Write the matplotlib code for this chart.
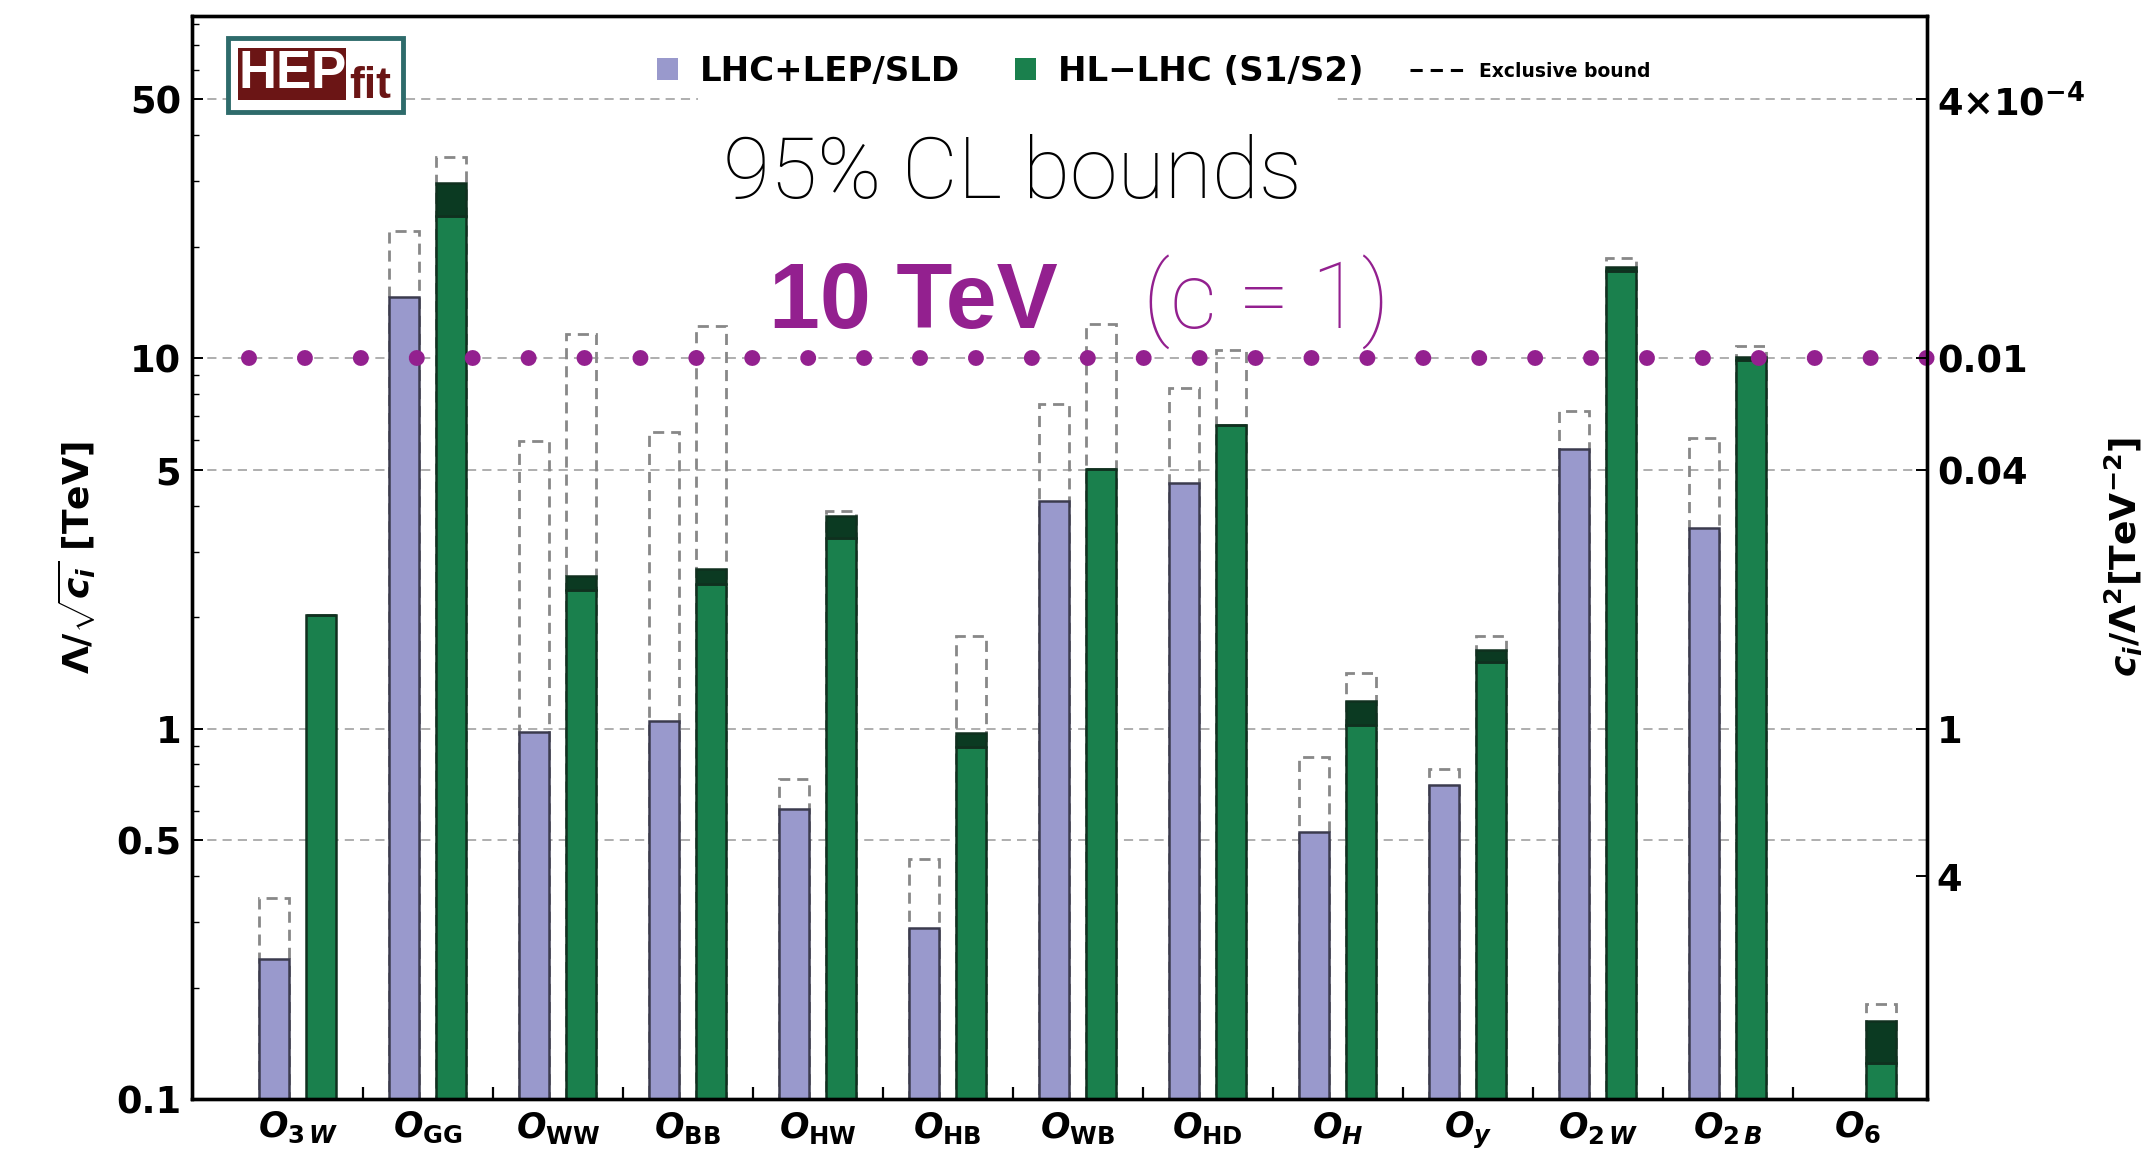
import numpy as np
import matplotlib
matplotlib.use("Agg")
import matplotlib.pyplot as plt
from matplotlib.patches import Patch, Rectangle
from matplotlib.lines import Line2D
from matplotlib.ticker import LogLocator, NullFormatter

plt.rcParams['font.family'] = ['DejaVu Sans']
plt.rcParams['mathtext.fontset'] = 'custom'
plt.rcParams['mathtext.rm'] = 'DejaVu Sans:bold'
plt.rcParams['mathtext.it'] = 'DejaVu Sans:bold:italic'
plt.rcParams['mathtext.bf'] = 'DejaVu Sans:bold'

nan = np.nan
ops = [r'$O_{3\,W}$', r'$O_{\rm GG}$', r'$O_{\rm WW}$', r'$O_{\rm BB}$', r'$O_{\rm HW}$',
       r'$O_{\rm HB}$', r'$O_{\rm WB}$', r'$O_{\rm HD}$', r'$O_{H}$', r'$O_{y}$',
       r'$O_{2\,W}$', r'$O_{2\,B}$', r'$O_{6}$']
# Lambda/sqrt(c) bounds in TeV
lhc = [0.239, 14.6, 0.98, 1.05, 0.606, 0.289, 4.12, 4.59, 0.526, 0.706, 5.70, 3.47, nan]
lhc_excl = [0.349, 22.0, 5.96, 6.32, 0.729, 0.444, 7.54, 8.31, 0.839, 0.779, 7.21, 6.08, nan]
hl_s1 = [2.03, 24.2, 2.36, 2.45, 3.27, 0.891, 5.01, 6.59, 1.025, 1.51, 17.2, 9.9, 0.125]
hl_s2 = [2.03, 29.8, 2.59, 2.70, 3.75, 0.972, 5.01, 6.59, 1.19, 1.63, 17.6, 10.1, 0.162]
hl_excl = [nan, 34.9, 11.6, 12.2, 3.87, 1.78, 12.4, 10.5, 1.41, 1.78, 18.6, 10.8, 0.181]

left_ticks = [0.1, 0.5, 1, 5, 10, 50]
left_labels = ['0.1', '0.5', '1', '5', '10', '50']
right_ticks = [50, 10, 5, 1, 0.4]
right_labels = [r'$4{\times}10^{-4}$', '0.01', '0.04', '1', '4']
ref_scale = 10  # TeV

purple = '#9999CC'
purple_edge = '#3B3B4E'
green = '#1A804D'
dark_green = '#0B3A22'
green_edge = '#10301F'
magenta = '#93208F'
dash_gray = '#888888'
thin_font = ['Roboto', 'Liberation Sans', 'DejaVu Sans']

fig = plt.figure(figsize=(21.46, 11.56), dpi=100)
ax = fig.add_axes([0.0895, 0.0493, 0.8085, 0.937])
ax.set_yscale('log')
ax.set_ylim(0.1, 84)
ax.set_xlim(-0.813, 12.533)

x = np.arange(len(ops))
off, w = 0.18, 0.23
lhc = np.array(lhc); lhc_excl = np.array(lhc_excl)
hl_s1 = np.array(hl_s1); hl_s2 = np.array(hl_s2); hl_excl = np.array(hl_excl)

for yv in [0.5, 1, 5, 10, 50]:
    ax.axhline(yv, color='#999999', lw=1.1, ls=(0, (6, 4)), zorder=0)

# exclusive bounds (dashed outlines)
ax.bar(x - off, lhc_excl, w, fill=False, edgecolor=dash_gray, lw=2.0, ls=(0, (4, 2.5)), zorder=1)
ax.bar(x + off, hl_excl, w, fill=False, edgecolor=dash_gray, lw=2.0, ls=(0, (4, 2.5)), zorder=1)
# global fits
ax.bar(x - off, lhc, w, color=purple, edgecolor=purple_edge, lw=1.8, zorder=2)
ax.bar(x + off, hl_s1, w, color=green, edgecolor=green_edge, lw=1.8, zorder=2)
ax.bar(x + off, hl_s2 - hl_s1, w, bottom=hl_s1, color=dark_green, edgecolor=green_edge, lw=1.8, zorder=2)

# 10 TeV reference line
ax.plot([-0.375, 12.533], [ref_scale, ref_scale], color=magenta, lw=11.5,
        ls=(0, (0.001, 3.5)), dash_capstyle='round', solid_capstyle='round',
        zorder=5, clip_on=False)

# axes styling
for s in ax.spines.values():
    s.set_linewidth(2.4)
ax.set_yticks(left_ticks, left_labels)
ax.yaxis.set_minor_locator(LogLocator(subs=np.arange(2, 10)))
ax.yaxis.set_minor_formatter(NullFormatter())
ax.tick_params(axis='y', which='major', direction='in', length=8, width=1.4,
               labelsize=26.5, pad=8)
ax.tick_params(axis='y', which='minor', direction='in', length=5, width=1.0)
for t in ax.get_yticklabels():
    t.set_fontweight('bold')
ax.set_xticks(x[:-1] + 0.5)
ax.set_xticklabels([])
ax.set_xticks(x, ops, minor=True)
ax.tick_params(axis='x', which='major', direction='in', length=9, width=1.6)
ax.tick_params(axis='x', which='minor', length=0, labelsize=25, pad=8)

ax2 = ax.twinx()
ax2.set_yscale('log')
ax2.set_ylim(ax.get_ylim())
ax2.set_yticks(right_ticks, right_labels)
ax2.yaxis.set_minor_locator(plt.NullLocator())
ax2.tick_params(axis='y', direction='in', length=8, width=1.4, labelsize=26.5, pad=7)
for t in ax2.get_yticklabels():
    t.set_fontweight('bold')
for s in ax2.spines.values():
    s.set_linewidth(2.4)

ax.set_ylabel(r'$\Lambda/\sqrt{c_i}$ [TeV]', fontsize=26, fontweight='bold')
ax.yaxis.set_label_coords(-0.054, 0.5)
fig.text(0.9897, 0.518, r'$c_i/\Lambda^2$[TeV$^{-2}$]', rotation=90, fontsize=26,
         fontweight='bold', ha='center', va='center')

# title block (white backing hides the grid line behind it)
ax.add_patch(Rectangle((0.2916, 0.8255), 0.366, 0.1045, transform=ax.transAxes,
                       fc='white', ec='none', zorder=3))
ax.text(0.473, 0.832, '95% CL bounds', transform=ax.transAxes, ha='center', va='baseline',
        fontsize=62, family=thin_font, fontweight='light', color='black', zorder=6)
ax.text(0.3326, 0.712, '10 TeV', transform=ax.transAxes, ha='left', va='baseline',
        fontsize=66, family=['Liberation Sans', 'DejaVu Sans'], fontweight='bold',
        color=magenta, zorder=6)
ax.text(0.548, 0.712, '(c = 1)', transform=ax.transAxes, ha='left', va='baseline',
        fontsize=66, family=thin_font, fontweight='light',
        color=magenta, zorder=6)

# legends
h1 = Patch(fc=purple, ec='none')
h2 = Patch(fc=green, ec='none')
leg1 = ax.legend([h1, h2], ['LHC+LEP/SLD', 'HL\u2212LHC (S1/S2)'], loc='center left',
                 bbox_to_anchor=(0.268, 0.949), ncol=2, frameon=False,
                 prop=dict(size=24.5, weight='bold'), handlelength=0.62, handleheight=0.62,
                 handletextpad=0.65, columnspacing=1.6, borderpad=0, borderaxespad=0)
ax.add_artist(leg1)
h3 = Line2D([], [], color='black', lw=2.2, ls=(0, (4, 2.6)))
ax.legend([h3], ['Exclusive bound'], loc='center left', bbox_to_anchor=(0.702, 0.949),
          frameon=False, prop=dict(size=13.5, weight='bold'), handlelength=2.8,
          handletextpad=0.85, borderpad=0, borderaxespad=0)

# HEPfit logo
ax.add_patch(Rectangle((0.0207, 0.911), 0.1009, 0.069, transform=ax.transAxes,
                       fc='white', ec='#2E6B6B', lw=3.5, zorder=7))
ax.add_patch(Rectangle((0.0265, 0.9224), 0.0623, 0.0481, transform=ax.transAxes,
                       fc='#6B1515', ec='none', zorder=8))
ax.text(0.0577, 0.9465, 'HEP', transform=ax.transAxes, ha='center', va='center',
        fontsize=38, fontweight='bold', family=['Liberation Sans', 'DejaVu Sans'],
        color='white', zorder=9)
ax.text(0.0905, 0.9245, 'fit', transform=ax.transAxes, ha='left', va='baseline',
        fontsize=32, fontweight='bold', family=['Liberation Sans', 'DejaVu Sans'],
        color='#6B1515', zorder=9)

fig.savefig('out.png', dpi=100)
